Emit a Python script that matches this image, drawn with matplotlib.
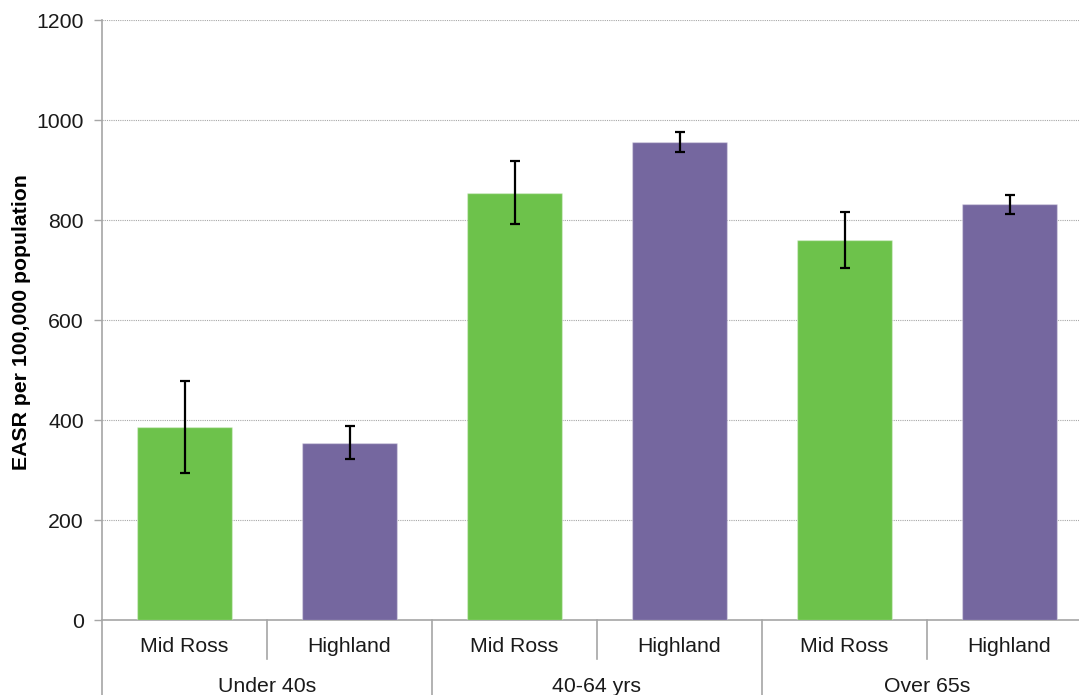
import matplotlib
matplotlib.use("Agg")
import matplotlib.pyplot as plt
import matplotlib.transforms as mtransforms

plt.rcParams['font.family'] = ['Liberation Sans', 'DejaVu Sans']

groups = ["Under 40s", "40-64 yrs", "Over 65s"]
areas = ["Mid Ross", "Highland", "Mid Ross", "Highland", "Mid Ross", "Highland"]
values = [387, 355, 855, 956, 761, 832]
err_low = [294, 322, 792, 936, 705, 813]
err_high = [478, 388, 919, 976, 817, 851]
yticks = [0, 200, 400, 600, 800, 1000, 1200]

GREEN = "#6DC24B"
PURPLE = "#75679F"
colors = [GREEN if a == "Mid Ross" else PURPLE for a in areas]

FS = 15.3
W, H = 1079, 695
fig = plt.figure(figsize=(W / 100, H / 100), dpi=100)
left_px, right_px, top_px, bottom_px = 102, 1092, 20, 620
ax = fig.add_axes([left_px / W, 1 - bottom_px / H, (right_px - left_px) / W, (bottom_px - top_px) / H])

x = list(range(len(values)))
yerr = [[v - lo for v, lo in zip(values, err_low)], [hi - v for v, hi in zip(values, err_high)]]
ax.bar(x, values, width=0.576, color=colors, edgecolor=[(1, 1, 1, 0.35)] * len(x), linewidth=1, zorder=3)
ax.errorbar(x, values, yerr=yerr, fmt='none', ecolor='black', elinewidth=1.6, capsize=3.4, capthick=1.6, zorder=4)

ax.set_xlim(-0.5, len(values) - 0.5)
ax.set_ylim(0, 1200)
ax.set_yticks(yticks)
ax.set_yticklabels([str(t) for t in yticks], fontsize=FS, color='#1a1a1a')
ax.tick_params(axis='y', length=6, width=1, color='#A6A6A6', pad=7)
ax.set_xticks([])
ax.yaxis.grid(True, linestyle=(0, (1, 1)), color='#A6A6A6', linewidth=0.8, zorder=0)
ax.set_axisbelow(True)

for s in ['top', 'right']:
    ax.spines[s].set_visible(False)
ax.spines['left'].set_color('#A6A6A6')
ax.spines['bottom'].set_color('#A6A6A6')
ax.spines['left'].set_linewidth(1.2)
ax.spines['bottom'].set_linewidth(1.2)

fig.text(22 / W, 1 - 322 / H, "EASR per 100,000 population", fontsize=FS, fontweight='bold',
         rotation=90, ha='center', va='center', color='#000000')

trans = mtransforms.blended_transform_factory(ax.transData, ax.transAxes)
ph = bottom_px - top_px
# first level labels
for xi, a in zip(x, areas):
    ax.text(xi, -27 / ph, a, transform=trans, ha='center', va='center', fontsize=FS, color='#1a1a1a')
# group labels
for gi, g in enumerate(groups):
    ax.text(2 * gi + 0.5, -66 / ph, g, transform=trans, ha='center', va='center', fontsize=FS, color='#1a1a1a')
# separators
for b in range(len(values) + 1):
    xb = b - 0.5
    if b % 2 == 0:
        y_end = -0.2
    else:
        y_end = -39 / ph
    ax.plot([xb, xb], [0, y_end], transform=trans, color='#A6A6A6', linewidth=1.2, clip_on=False)

fig.savefig("out.png", dpi=100)
